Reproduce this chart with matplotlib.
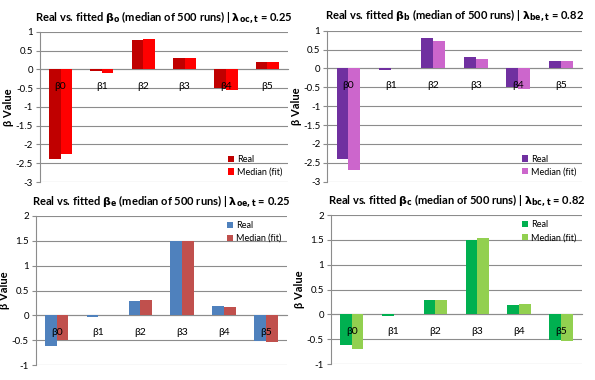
import matplotlib
matplotlib.use("Agg")
import matplotlib.pyplot as plt
import matplotlib.ticker as mticker
import numpy as np

plt.rcParams['font.family'] = ['Lato', 'DejaVu Sans']

cats = ['β0', 'β1', 'β2', 'β3', 'β4', 'β5']
labels = ['Real', 'Median (fit)']

# beta_o
real_o = [-2.38, -0.03, 0.78, 0.30, -0.49, 0.19]
fit_o = [-2.26, -0.09, 0.80, 0.30, -0.56, 0.19]
# beta_b
real_b = [-2.39, -0.03, 0.81, 0.31, -0.49, 0.19]
fit_b = [-2.68, 0.0, 0.73, 0.26, -0.55, 0.19]
# beta_e
real_e = [-0.61, -0.03, 0.29, 1.50, 0.19, -0.51]
fit_e = [-0.50, 0.0, 0.31, 1.50, 0.17, -0.54]
# beta_c
real_c = [-0.61, -0.03, 0.29, 1.50, 0.19, -0.51]
fit_c = [-0.70, 0.0, 0.29, 1.53, 0.21, -0.54]

panels = [
    dict(real=real_o, fit=fit_o, cols=('#C00000', '#FF0000'),
         title=r'Real vs. fitted $\mathbf{\beta_o}$ (median of 500 runs) | $\mathbf{\lambda_{oc,t}}$ = 0.25',
         ylim=(-3, 1), rect=(0.067, 0.521, 0.417, 0.395), leg='lower right'),
    dict(real=real_b, fit=fit_b, cols=('#7030A0', '#CC66CC'),
         title=r'Real vs. fitted $\mathbf{\beta_b}$ (median of 500 runs) | $\mathbf{\lambda_{be,t}}$ = 0.82',
         ylim=(-3, 1), rect=(0.550, 0.522, 0.428, 0.397), leg='lower right'),
    dict(real=real_e, fit=fit_e, cols=('#4F81BD', '#C0504D'),
         title=r'Real vs. fitted $\mathbf{\beta_e}$ (median of 500 runs) | $\mathbf{\lambda_{oe,t}}$ = 0.25',
         ylim=(-1, 2), rect=(0.060, 0.039, 0.422, 0.393), leg='upper right'),
    dict(real=real_c, fit=fit_c, cols=('#00B050', '#92D050'),
         title=r'Real vs. fitted $\mathbf{\beta_c}$ (median of 500 runs) | $\mathbf{\lambda_{bc,t}}$ = 0.82',
         ylim=(-1, 2), rect=(0.556, 0.042, 0.422, 0.392), leg='upper right'),
]

fig = plt.figure(figsize=(5.95, 3.8), dpi=100)
plt.rcParams['mathtext.fontset'] = 'dejavusans'

x = np.arange(len(cats))
w = 0.28
for p in panels:
    ax = fig.add_axes(p['rect'])
    ax.bar(x - w / 2, p['real'], w, color=p['cols'][0], label=labels[0], zorder=3)
    ax.bar(x + w / 2, p['fit'], w, color=p['cols'][1], label=labels[1], zorder=3)
    ax.set_xlim(-0.5, len(cats) - 0.5)
    ax.set_ylim(*p['ylim'])
    ax.yaxis.set_major_locator(mticker.MultipleLocator(0.5))
    ax.yaxis.set_major_formatter(mticker.FuncFormatter(lambda v, _: ('%g' % v)))
    ax.grid(axis='y', color='#8C8C8C', linewidth=0.8)
    ax.yaxis.set_zorder(1)
    ax.xaxis.set_zorder(5)
    for s in ['top', 'right']:
        ax.spines[s].set_visible(False)
    ax.spines['left'].set_color('#8C8C8C')
    ax.spines['bottom'].set_position(('data', 0))
    ax.spines['bottom'].set_color('#8C8C8C')
    ax.spines['bottom'].set_zorder(2)
    ax.set_xticks(x)
    ax.set_xticklabels(cats)
    ax.tick_params(axis='x', length=0, pad=9, labelsize=7.5)
    ax.tick_params(axis='y', length=3, color='#8C8C8C', labelsize=7, pad=2)
    ax.set_title(p['title'], fontsize=8, fontweight='bold', pad=8)
    ax.set_ylabel('β Value', fontsize=8, fontweight='bold', labelpad=1)
    ax.legend(loc=p['leg'], fontsize=6.5, frameon=False, handlelength=0.7,
              handleheight=0.7, handletextpad=0.3, labelspacing=0.4,
              borderaxespad=0.2)

fig.savefig('out.png', dpi=100)
